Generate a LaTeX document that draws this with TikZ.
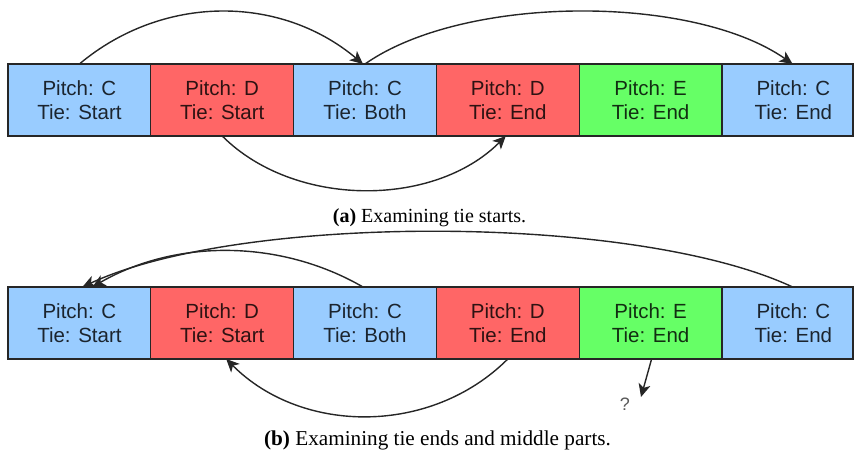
\documentclass[tikz,border=0pt]{standalone}
\usepackage{fontspec}
\setmainfont{Liberation Serif}
\newfontfamily\boxfont{Liberation Sans}
\usetikzlibrary{arrows.meta}
\definecolor{noteblue}{HTML}{99CCFF}
\definecolor{notered}{HTML}{FF6666}
\definecolor{notegreen}{HTML}{66FF66}
\begin{document}
\begin{tikzpicture}[x=1pt,y=1pt,
  boxtext/.style={font=\boxfont\fontsize{20.5}{24}\selectfont, align=center,
    text=black, text opacity=0.82},
  note/.style={boxtext, draw=black!85, line width=1.3pt, minimum width=142.8pt,
    minimum height=72pt, inner sep=0pt, outer sep=0pt},
  lastnote/.style={note, minimum width=130.8pt},
  link/.style={draw=black!85, line width=1.4pt,
    -{Stealth[length=13pt,width=12pt,inset=3.5pt]}},
  caption/.style={font=\fontsize{20}{24}\selectfont, anchor=base, inner sep=0pt}
]
\useasboundingbox (0,0) rectangle (855,455);

% ---- row (a): tie starts ----
\node[note, fill=noteblue]  (a1) at (79.4,355)  {Pitch: C\\Tie: Start};
\node[note, fill=notered]   (a2) at (222.2,355) {Pitch: D\\Tie: Start};
\node[note, fill=noteblue]  (a3) at (365,355)   {Pitch: C\\Tie: Both};
\node[note, fill=notered]   (a4) at (507.8,355) {Pitch: D\\Tie: End};
\node[note, fill=notegreen] (a5) at (650.6,355) {Pitch: E\\Tie: End};
\node[lastnote, fill=noteblue,
  label={[boxtext, xshift=5.8pt]center:{Pitch: C\\Tie: End}}] (a6) at (787.6,355) {};

\draw[link] (a1.north) to[out=40,in=140,looseness=0.98] ([xshift=-2pt]a3.north);
\draw[link] (a3.north) to[out=35,in=145,looseness=0.73] ([xshift=5pt]a6.north);
\draw[link] (a2.south) to[out=-45,in=-135,looseness=0.92] ([xshift=-2pt]a4.south);

\node[caption] (capa) at (429.5,232) {\textbf{(a)} Examining tie starts.};

% ---- row (b): tie ends and middle parts ----
\node[note, fill=noteblue]  (b1) at (79.4,132)  {Pitch: C\\Tie: Start};
\node[note, fill=notered]   (b2) at (222.2,132) {Pitch: D\\Tie: Start};
\node[note, fill=noteblue]  (b3) at (365,132)   {Pitch: C\\Tie: Both};
\node[note, fill=notered]   (b4) at (507.8,132) {Pitch: D\\Tie: End};
\node[note, fill=notegreen] (b5) at (650.6,132) {Pitch: E\\Tie: End};
\node[lastnote, fill=noteblue,
  label={[boxtext, xshift=5.8pt]center:{Pitch: C\\Tie: End}}] (b6) at (787.6,132) {};

\draw[link] ([xshift=5pt]b6.north) to[out=155,in=25,looseness=0.63] ([xshift=3pt]b1.north);
\draw[link] ([xshift=-2pt]b3.north) to[out=150,in=30,looseness=0.91] ([xshift=13pt]b1.north);
\draw[link] (b4.south) to[out=-135,in=-45,looseness=0.98] ([xshift=4pt]b2.south);

\coordinate (qtip) at (641,58);
\draw[link] ([xshift=1pt]b5.south) -- (qtip);
\node[text=black!65, font=\boxfont\fontsize{18}{20}\selectfont] (q) at (625,51) {?};

\node[caption, font=\fontsize{21.2}{25}\selectfont] (capb) at (437.5,9) {\textbf{(b)} Examining tie ends and middle parts.};
\end{tikzpicture}
\end{document}
